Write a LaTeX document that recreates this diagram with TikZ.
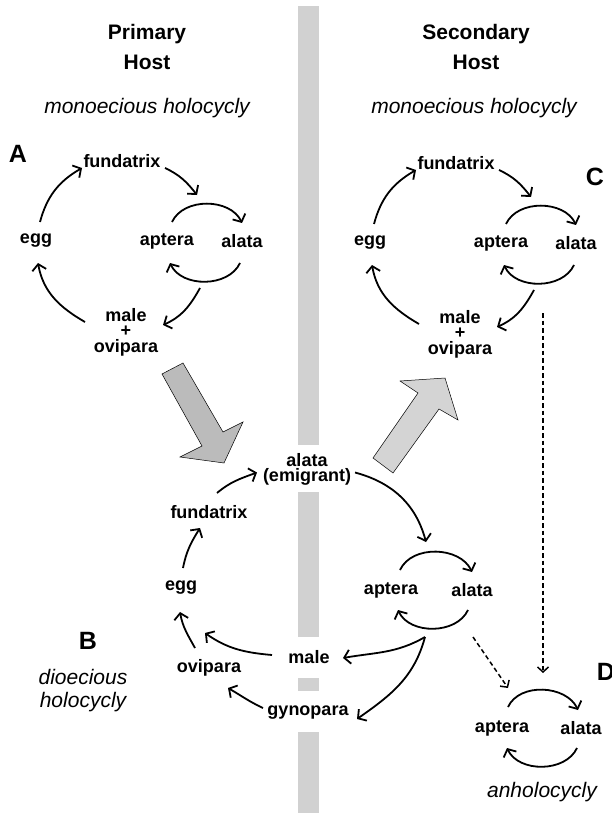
\documentclass[tikz,border=0pt]{standalone}
\usepackage{fontspec}
\setmainfont{Liberation Sans}
\usetikzlibrary{arrows.meta}

\begin{document}
\begin{tikzpicture}[x=1pt, y=1pt,
        lbl/.style={font=\bfseries\fontsize{18}{15.5}\selectfont, inner sep=2pt, align=center},
        head/.style={font=\bfseries\fontsize{21}{30}\selectfont, align=center},
        cname/.style={font=\itshape\fontsize{21}{23}\selectfont, align=center},
        panel/.style={font=\bfseries\fontsize{25}{25}\selectfont},
        arr/.style={-{Straight Barb[length=6pt,width=14pt]}, line width=1.8pt},
        dsh/.style={-{Straight Barb[length=5pt,width=11pt]}, line width=1.5pt, dash pattern=on 4.5pt off 3pt},
        bigarrow/.style={draw=black, line width=0.5pt, line join=miter}]
            \useasboundingbox (0,0) rectangle (612,-813);
            \fill[gray!36] (298,-6) rectangle (319,-445);
            \fill[gray!36] (298,-492) rectangle (319,-637);
            \fill[gray!36] (298,-678) rectangle (319,-691);
            \fill[gray!36] (298,-732) rectangle (319,-813);
            \draw[bigarrow, fill=gray!53] (162,-374) -- (183,-363) -- (223,-432) -- (243,-422) -- (224,-463) -- (180,-457) -- (202,-446) -- cycle;
            \draw[bigarrow, fill=gray!34] (373,-458) -- (393,-473) -- (439,-409) -- (458,-420) -- (445,-378) -- (400,-381) -- (418,-393) -- cycle;
            \node[head] (prim) at (147,-47) {Primary\\Host};
            \node[head] (sec) at (476,-47) {Secondary\\Host};
            \node[cname] (a-name) at (147,-108) {monoecious holocycly};
            \node[cname] (c-name) at (474,-108) {monoecious holocycly};
            \node[cname] (b-name) at (83,-691) {dioecious\\holocycly};
            \node[cname] (d-name) at (542,-792) {anholocycly};
            \node[panel] (a-panel) at (18,-154) {A};
            \node[panel] (b-panel) at (88,-641) {B};
            \node[panel] (c-panel) at (595,-177) {C};
            \node[panel] (d-panel) at (606,-672) {D};
            \node[lbl] (a-fun) at (122,-161) {fundatrix};
            \node[lbl] (a-egg) at (36,-241) {egg};
            \node[lbl] (a-apt) at (167,-241) {aptera};
            \node[lbl] (a-ala) at (242,-241) {alata};
            \node[lbl] (a-mo) at (126,-332) {male\\+\\ovipara};
            \coordinate (a-loop) at (205,-241);
            \draw[arr] ([shift={(4,19)}]a-egg.center) to[out=75,in=210] ([shift={(-40,-7)}]a-fun.center);
            \draw[arr] ([shift={(43,-7)}]a-fun.center) to[out=-25,in=128] ([shift={(-8,46)}]a-loop);
            \draw[arr] ([shift={(5,19)}]a-apt.center) to[out=65,in=115] ([shift={(0,18)}]a-ala.center);
            \draw[arr] ([shift={(-2,-22)}]a-ala.center) to[out=-115,in=-65] ([shift={(3,-22)}]a-apt.center);
            \draw[arr] ([shift={(-5,-47)}]a-loop) to[out=-119,in=24] ([shift={(37,7)}]a-mo.center);
            \draw[arr] ([shift={(-41,10)}]a-mo.center) to[out=150,in=-80] ([shift={(2,-22)}]a-egg.center);
            \node[lbl] (c-fun) at (456,-163) {fundatrix};
            \node[lbl] (c-egg) at (370,-243) {egg};
            \node[lbl] (c-apt) at (501,-243) {aptera};
            \node[lbl] (c-ala) at (576,-243) {alata};
            \node[lbl] (c-mo) at (460,-334) {male\\+\\ovipara};
            \coordinate (c-loop) at (539,-243);
            \draw[arr] ([shift={(4,19)}]c-egg.center) to[out=75,in=210] ([shift={(-40,-7)}]c-fun.center);
            \draw[arr] ([shift={(43,-7)}]c-fun.center) to[out=-25,in=128] ([shift={(-8,46)}]c-loop);
            \draw[arr] ([shift={(5,19)}]c-apt.center) to[out=65,in=115] ([shift={(0,18)}]c-ala.center);
            \draw[arr] ([shift={(-2,-22)}]c-ala.center) to[out=-115,in=-65] ([shift={(3,-22)}]c-apt.center);
            \draw[arr] ([shift={(-5,-47)}]c-loop) to[out=-119,in=24] ([shift={(37,7)}]c-mo.center);
            \draw[arr] ([shift={(-41,10)}]c-mo.center) to[out=150,in=-80] ([shift={(2,-22)}]c-egg.center);
            \node[lbl] (emi) at (307,-469.5) {alata\\(emigrant)};
            \node[lbl] (b-fun) at (209,-512) {fundatrix};
            \node[lbl] (b-egg) at (181,-588) {egg};
            \node[lbl] (b-ovi) at (209,-668) {ovipara};
            \node[lbl] (b-male) at (309,-657) {male};
            \node[lbl] (b-gyn) at (308,-713) {gynopara};
            \node[lbl] (b-apt) at (391,-590) {aptera};
            \node[lbl] (b-ala) at (472,-590) {alata};
            \coordinate (b-loop) at (431,-590);
            \draw[arr] ([shift={(8,19)}]b-fun.center) to[out=40,in=200] ([shift={(-50,-3)}]emi.center);
            \draw[arr] ([shift={(2,20)}]b-egg.center) to[out=79,in=238] ([shift={(-9,-16)}]b-fun.center);
            \draw[arr] ([shift={(-14,20)}]b-ovi.center) to[out=119,in=-80] ([shift={(-1,-24)}]b-egg.center);
            \draw[arr] ([shift={(-37,2)}]b-male.center) to[out=175,in=-35] ([shift={(-4,35)}]b-ovi.center);
            \draw[arr] ([shift={(-45,5)}]b-gyn.center) to[out=155,in=-30] ([shift={(19,-20)}]b-ovi.center);
            \draw[arr] ([shift={(48,-3)}]emi.center) to[out=-15,in=105] ([shift={(-5,48)}]b-loop);
            \draw[arr] ([shift={(9,20)}]b-apt.center) to[out=65,in=115] ([shift={(0,18)}]b-ala.center);
            \draw[arr] ([shift={(-4,-20)}]b-ala.center) to[out=-115,in=-65] ([shift={(7,-20)}]b-apt.center);
            \draw[arr] ([shift={(-6,-47)}]b-loop) to[out=-150,in=10] ([shift={(34,-1)}]b-male.center);
            \draw[arr] ([shift={(-6,-47)}]b-loop) to[out=-105,in=35] ([shift={(49,-6)}]b-gyn.center);
            \node[lbl] (d-apt) at (502,-728) {aptera};
            \node[lbl] (d-ala) at (581,-728) {alata};
            \coordinate (d-loop) at (541,-728);
            \draw[arr] ([shift={(6,21)}]d-apt.center) to[out=65,in=115] ([shift={(-3,18)}]d-ala.center);
            \draw[arr] ([shift={(-4,-20)}]d-ala.center) to[out=-115,in=-65] ([shift={(5,-20)}]d-apt.center);
            \draw[dsh] ([shift={(42,-47)}]b-loop) -- ([shift={(-33,40)}]d-loop);
            \draw[dsh] ([shift={(4,-70)}]c-loop) -- ([shift={(2,55)}]d-loop);
        \end{tikzpicture}
\end{document}
